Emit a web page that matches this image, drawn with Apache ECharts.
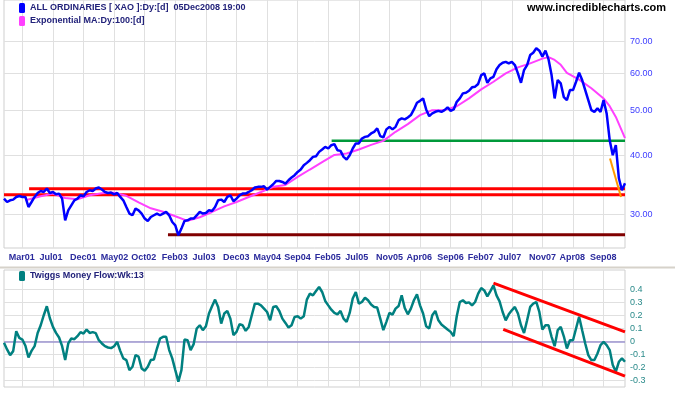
<!DOCTYPE html>
<html><head><meta charset="utf-8">
<script src="https://cdn.jsdelivr.net/npm/echarts@6/dist/echarts.min.js"></script>
<style>html,body{margin:0;padding:0;background:#fff;}#c{width:675px;height:395px;}</style>
</head><body><div id="c"></div>
<script>
// x positions are sample numbers (one sample every ~2 weeks of trading)
const tickLabels = ['Mar01','Jul01','Dec01','May02','Oct02','Feb03','Jul03','Dec03','May04','Sep04','Feb05','Jul05','Nov05','Apr06','Sep06','Feb07','Jul07','Nov07','Apr08','Sep08'];
const tickIndex = [6,16,26,36,46,56,66,76,86,96,106,116,126,136,146,156,166,176,186,196];
const priceTicks = [30,40,50,60,70];
const flowTicks = [-0.3,-0.2,-0.1,0,0.1,0.2,0.3,0.4];

const price = [
32.41,31.87,32.14,32.25,32.67,32.83,32.67,32.67,31.10,31.87,
32.67,33.31,33.64,33.48,34.05,33.31,33.48,33.10,33.21,32.41,
29.13,30.60,31.36,32.14,32.41,32.94,32.78,33.48,33.76,33.64,
34.05,34.22,33.88,33.48,33.31,33.38,33.10,33.31,32.67,32.14,
31.10,30.11,29.86,30.86,30.60,30.11,29.38,29.03,29.61,29.86,
30.11,29.86,30.11,30.35,29.86,28.89,28.43,27.06,27.97,29.03,
29.13,29.38,29.38,29.86,30.35,30.11,30.20,30.60,30.50,31.10,
32.14,32.25,31.87,32.67,32.94,31.98,32.41,32.94,33.21,33.21,
33.48,33.76,34.22,34.33,34.33,34.43,33.88,34.33,34.77,35.34,
35.34,35.17,34.89,35.46,35.94,36.35,36.94,37.38,38.18,38.62,
39.13,39.77,39.91,40.76,41.24,41.77,41.44,42.12,42.33,41.10,
40.96,39.77,39.27,40.10,41.44,42.48,42.48,43.53,43.88,44.03,
44.62,44.98,45.75,44.03,43.75,45.52,46.09,45.52,46.09,47.63,
48.04,47.80,48.27,48.82,50.20,51.88,52.37,52.99,50.20,48.58,
49.23,49.62,49.86,49.62,50.03,50.70,49.86,50.20,52.11,52.99,
54.32,54.48,55.02,55.96,56.13,56.89,59.43,59.93,57.22,58.47,
58.93,61.14,62.42,63.11,63.42,62.93,63.42,62.42,59.93,57.22,
60.91,62.42,65.57,66.32,67.77,66.98,65.05,66.98,64.20,59.43,
52.99,57.99,57.04,53.33,52.55,55.20,55.20,57.51,60.11,57.99,
55.20,52.55,50.03,49.62,50.45,49.62,52.55,49.23,43.17,40.10,
42.12,35.81,33.76,34.94
];

const emaSample = [7,12,16,20,24,28,32,36,40,44,48,52,56,60,64,68,72,76,80,84,88,92,96,100,104,108,112,116,120,124,128,132,136,140,144,148,152,156,160,164,168,172,176,178,180,182,184,188,192,196,198,200,203];
const emaValue = [32.14,32.78,33.21,32.5,32.3,32.94,33.26,33.34,32.86,31.82,30.9,30.38,29.71,29.06,29.57,30.35,31.2,31.87,32.67,33.48,34.33,34.65,36.04,37.38,38.75,40.16,40.43,41.24,42.18,43.02,44.98,46.7,48.82,50.03,50.03,51.0,52.99,55.39,57.51,59.93,61.7,62.93,64.42,64.9,64.0,62.5,60.1,58.1,55.7,52.99,51.0,48.4,43.6];

const moneyFlow = [
-0.010,-0.061,-0.105,-0.074,0.079,0.028,0.015,-0.033,-0.123,-0.072,
-0.036,0.066,0.125,0.202,0.271,0.179,0.112,0.066,0.031,-0.036,
-0.143,-0.015,0.023,0.018,0.041,0.072,0.061,0.092,0.066,0.072,
0.064,0.010,-0.015,-0.036,-0.046,-0.051,-0.036,-0.003,-0.072,-0.130,
-0.143,-0.220,-0.194,-0.105,-0.117,-0.207,-0.225,-0.194,-0.143,-0.138,
-0.054,0.023,0.036,0.036,-0.066,-0.130,-0.220,-0.309,-0.220,0.015,
0.010,-0.066,-0.020,0.100,0.125,0.087,0.117,0.215,0.271,0.322,
0.266,0.138,0.215,0.235,0.176,0.049,0.074,0.133,0.125,0.082,
0.112,0.202,0.291,0.291,0.278,0.253,0.227,0.163,0.266,0.271,
0.235,0.176,0.143,0.107,0.125,0.189,0.194,0.176,0.194,0.322,
0.368,0.355,0.388,0.419,0.381,0.312,0.278,0.245,0.220,0.209,
0.235,0.176,0.151,0.220,0.330,0.381,0.291,0.304,0.337,0.317,
0.284,0.266,0.261,0.176,0.087,0.151,0.220,0.207,0.253,0.273,
0.355,0.258,0.209,0.253,0.317,0.363,0.278,0.215,0.117,0.100,
0.202,0.235,0.163,0.130,0.112,0.092,0.074,0.041,0.194,0.304,
0.317,0.296,0.301,0.278,0.304,0.368,0.411,0.393,0.347,0.388,
0.432,0.355,0.309,0.227,0.163,0.209,0.240,0.266,0.215,0.125,
0.066,0.163,0.266,0.291,0.304,0.227,0.092,0.125,0.125,0.036,
-0.036,0.087,0.112,0.040,-0.054,0.010,0.010,0.100,0.190,0.087,
-0.015,-0.105,-0.143,-0.143,-0.092,-0.028,-0.003,-0.028,-0.066,-0.181,
-0.232,-0.156,-0.130,-0.156
];

// drawn support / resistance lines: [sample, level]
const resistanceUpper = [[8.2,34.01],[203,34.01]];
const resistanceLower = [[0,33.03],[203,33.03]];
const supportGreen = [[107.1,43.07],[203,43.07]];
const supportLow = [[53.6,27.14],[203,27.14]];
const fallLine = [[198.1,39.45],[201.7,32.67]];
const channelUpper = [[160,0.449],[203,0.074]];
const channelLower = [[163.2,0.094],[203,-0.266]];

const priceName = 'ALL ORDINARIES [ XAO ]:Dy:[d]  05Dec2008 19:00';
const emaName = 'Exponential MA:Dy:100:[d]';
const flowName = 'Twiggs Money Flow:Wk:13';

const FONT = "'Liberation Sans', Arial, sans-serif";
const GRID = '#e0e0e0';
const LAST = price.length - 1;

const chart = echarts.init(document.getElementById('c'), null, {renderer:'canvas', width:675, height:395});
const seg = (name, data, color, width, z, xi, yi) => ({
  name, type:'line', data, xAxisIndex:xi||0, yAxisIndex:yi||0, symbol:'none', silent:true,
  lineStyle:{color, width}, itemStyle:{color}, z, animation:false
});

chart.setOption({
  animation:false,
  backgroundColor:'#ffffff',
  textStyle:{fontFamily:FONT},
  title:{text:'www.incrediblecharts.com', right:9, top:2, padding:0,
    textStyle:{fontSize:11, fontWeight:'bold', color:'#000', fontFamily:FONT}},
  legend:[
    {data:[priceName, emaName], orient:'vertical', left:19, top:3, padding:0, itemWidth:6, itemHeight:10, itemGap:3,
     icon:'roundRect', selectedMode:false, textStyle:{fontSize:9, fontWeight:'bold', color:'#22227a', fontFamily:FONT}},
    {data:[flowName], orient:'vertical', left:19, top:271, padding:0, itemWidth:6, itemHeight:10,
     icon:'roundRect', selectedMode:false, textStyle:{fontSize:9, fontWeight:'bold', color:'#22227a', fontFamily:FONT}}
  ],
  graphic:[{type:'rect', shape:{x:0, y:266.5, width:675, height:2}, style:{fill:'#d6d2ca'}, silent:true, z:100}],
  grid:[
    {left:4, top:0, width:621, height:248, show:true, borderColor:'#cfcfcf', borderWidth:1, outerBoundsMode:'none'},
    {left:4, top:270, width:621, height:117, show:true, borderColor:'#cfcfcf', borderWidth:1, outerBoundsMode:'none'}
  ],
  xAxis:[
    {type:'value', gridIndex:0, min:0, max:LAST, axisLine:{show:false},
     axisTick:{show:false, customValues:tickIndex},
     axisLabel:{customValues:tickIndex, margin:5,
       formatter:v => '{t|' + (tickLabels[tickIndex.indexOf(v)] || '') + '}',
       rich:{t:{width:27, align:'left', fontSize:9, fontWeight:'bold', color:'#2a2a9c', fontFamily:FONT}}},
     splitLine:{show:true, lineStyle:{color:GRID, width:1}}},
    {type:'value', gridIndex:1, min:0, max:LAST, axisLine:{show:false},
     axisTick:{show:false, customValues:tickIndex}, axisLabel:{show:false},
     splitLine:{show:true, lineStyle:{color:GRID, width:1}}}
  ],
  yAxis:[
    {type:'log', gridIndex:0, position:'right', min:25.43, max:85.9, axisLine:{show:false},
     axisTick:{show:false, customValues:priceTicks},
     axisLabel:{customValues:priceTicks, margin:5, formatter:v => Number(v).toFixed(2),
       fontSize:9, color:'#3c3cff', fontFamily:FONT},
     splitLine:{show:true, lineStyle:{color:GRID, width:1}}},
    {type:'value', gridIndex:1, position:'right', min:-0.35, max:0.55, axisLine:{show:false},
     axisTick:{show:false, customValues:flowTicks},
     axisLabel:{customValues:flowTicks, margin:5, formatter:v => String(Math.round(v*10)/10),
       fontSize:9, color:'#2a8a8a', fontFamily:FONT},
     splitLine:{show:true, lineStyle:{color:GRID, width:1}}}
  ],
  series:[
    seg('resUpper', resistanceUpper, '#ff0000', 3, 2),
    seg('resLower', resistanceLower, '#ff0000', 3, 2),
    seg('supGreen', supportGreen, '#00993a', 2.5, 2),
    seg('supLow', supportLow, '#800000', 3, 2),
    seg(emaName, emaSample.map((s,k) => [s, emaValue[k]]), '#ff40ff', 2, 3),
    seg(priceName, price.map((v,i) => [i, v]), '#0000ff', 2.5, 4),
    seg('fall', fallLine, '#ff9900', 2, 5),
    Object.assign(seg(flowName, moneyFlow.map((v,i) => [i, v]), '#008080', 2.5, 4, 1, 1), {
      markLine:{silent:true, symbol:'none', label:{show:false}, z:1,
        lineStyle:{color:'#9c94d0', width:1.5, type:'solid'}, data:[{yAxis:0}]}
    }),
    seg('chUpper', channelUpper, '#ff0000', 3, 5, 1, 1),
    seg('chLower', channelLower, '#ff0000', 3, 5, 1, 1)
  ]
});
</script></body></html>
